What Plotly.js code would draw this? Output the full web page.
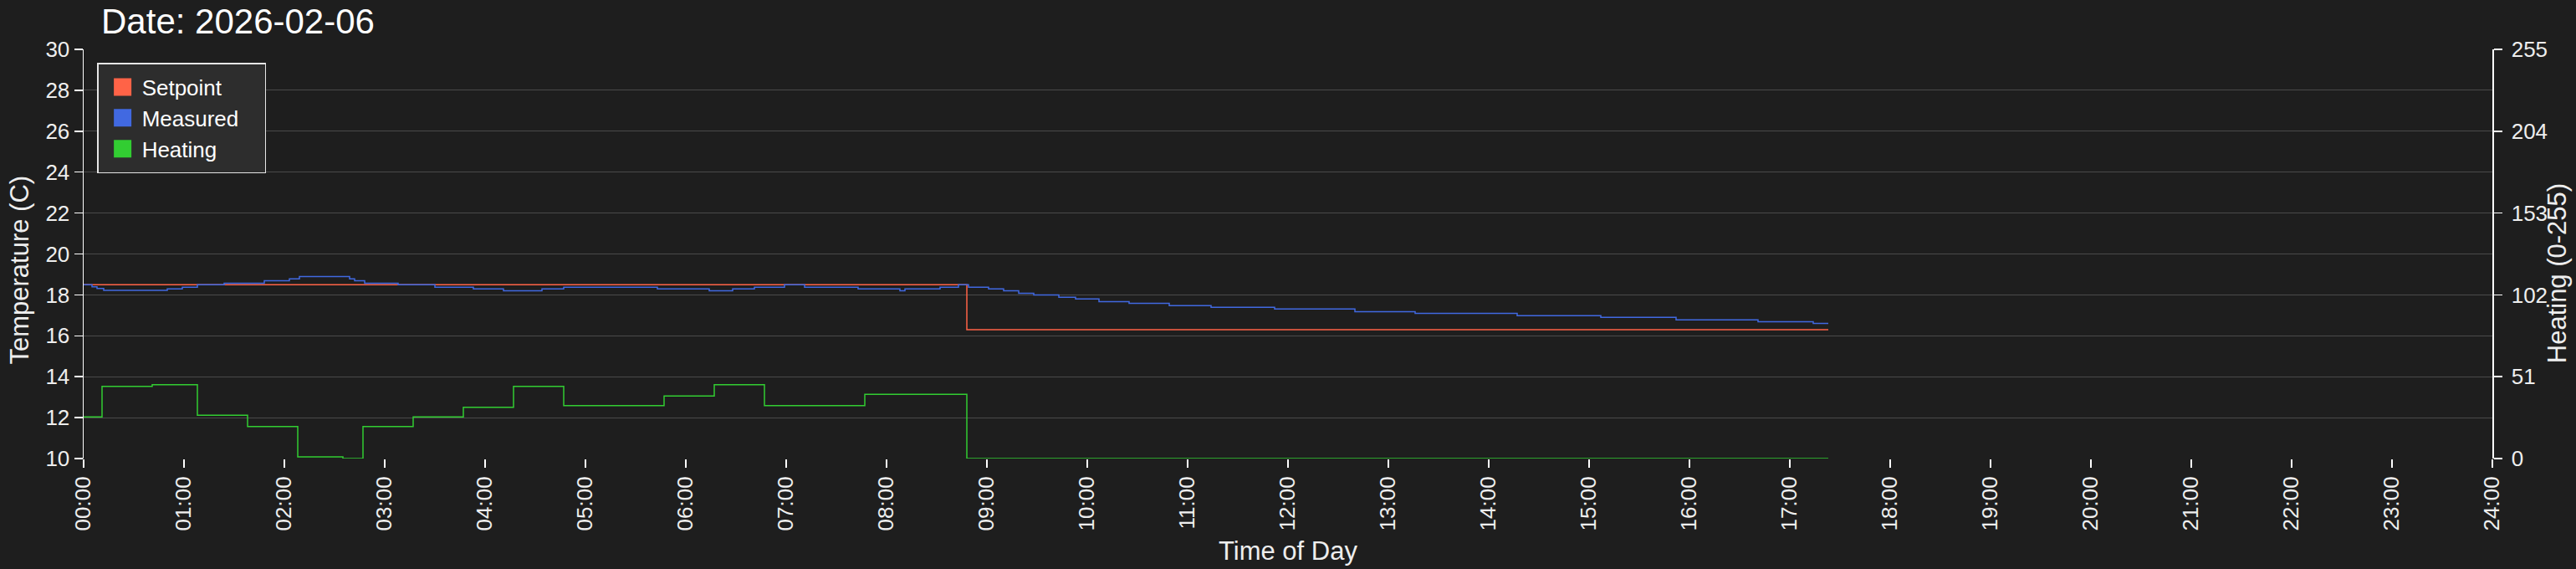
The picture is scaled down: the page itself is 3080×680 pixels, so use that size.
<!DOCTYPE html>
<html>
<head>
<meta charset="utf-8">
<script src="https://cdn.plot.ly/plotly-3.0.1.min.js"></script>
<style>
  body { margin: 0; background: #1e1e1e; }
  #chart { width: 3080px; height: 680px; }
</style>
</head>
<body>
<div id="chart"></div>
<script>
// readings for 2026-02-06 (times as HH:MM)
const setpointTimes = ['00:00', '08:48', '17:23'];
const setpointValues = [18.5, 16.3, 16.3];

const measuredTimes = ['00:00','00:05','00:08','00:12','00:50','00:59','01:08','01:24','01:48','02:03',
  '02:09','02:39','02:42','02:48','03:08','03:30','03:53','04:11','04:34','04:47',
  '05:43','06:14','06:28','06:41','06:59','07:11','07:43','08:08','08:11','08:32',
  '08:43','08:49','09:01','09:10','09:19','09:28','09:43','09:53','10:07','10:25',
  '10:49','11:14','11:52','12:40','13:16','14:17','15:07','15:52','16:41','17:14','17:23'];
const measuredValues = [18.5,18.39,18.31,18.22,18.29,18.37,18.5,18.57,18.69,18.78,
  18.9,18.78,18.69,18.57,18.5,18.37,18.29,18.2,18.29,18.37,
  18.29,18.2,18.29,18.37,18.5,18.37,18.29,18.2,18.29,18.37,
  18.5,18.37,18.29,18.2,18.08,18.0,17.88,17.8,17.67,17.59,
  17.47,17.39,17.31,17.18,17.1,16.98,16.9,16.78,16.69,16.61,16.61];

const heatingTimes = ['00:00','00:11','00:41','01:08','01:38','02:08','02:35','02:47','03:17','03:47',
  '04:17','04:47','05:47','06:17','06:47','07:47','08:48','17:23'];
const heatingValues = [26,45,46,27,20,1,0,20,26,32,45,33,39,46,33,40,0,0];

const seriesNames = ['Setpoint', 'Measured', 'Heating'];
const seriesColors = ['tomato', 'royalblue', 'limegreen'];

const hourTicks = [];
const hourLabels = [];
for (let h = 0; h <= 24; h++) {
  hourTicks.push(h);
  hourLabels.push((h < 10 ? '0' : '') + h + ':00');
}
const heatTicks = [0, 51, 102, 153, 204, 255];

function toHours(s) {
  const [h, m] = s.split(':').map(Number);
  return h + m / 60;
}

function lineTrace(i, times, values, yaxis) {
  return {
    name: seriesNames[i],
    x: times.map(toHours),
    y: values,
    yaxis: yaxis,
    type: 'scatter',
    mode: 'lines',
    line: {color: seriesColors[i], width: 1.5, shape: 'hv'},
    showlegend: false,
    hoverinfo: 'x+y+name',
  };
}

// square swatches for the legend (one empty bar each, nothing drawn in the plot)
function legendTrace(i) {
  return {
    name: seriesNames[i],
    type: 'bar',
    x: [null],
    y: [null],
    marker: {color: seriesColors[i]},
    hoverinfo: 'skip',
  };
}

const data = [
  lineTrace(0, setpointTimes, setpointValues, 'y'),
  lineTrace(1, measuredTimes, measuredValues, 'y'),
  lineTrace(2, heatingTimes, heatingValues, 'y2'),
  legendTrace(0), legendTrace(1), legendTrace(2),
];

const font = '"Liberation Sans", Arial, Helvetica, sans-serif';
const tickFont = {family: font, size: 26, color: '#eeeeee'};
const axisTitleFont = {family: font, size: 31, color: '#eeeeee'};

const layout = {
  width: 3080,
  height: 680,
  paper_bgcolor: '#1e1e1e',
  plot_bgcolor: '#1e1e1e',
  font: {family: font, size: 26, color: '#ffffff'},
  margin: {l: 100, r: 100, t: 59, b: 132},
  title: {
    text: 'Date: 2026-02-06',
    font: {family: font, size: 42, color: '#ffffff'},
    xref: 'container', x: 0.0393, xanchor: 'left',
    yref: 'container', y: 0.963, yanchor: 'middle',
  },
  xaxis: {
    range: [0, 24],
    tickvals: hourTicks,
    ticktext: hourLabels,
    tickangle: -90,
    tickfont: tickFont,
    ticks: 'outside', ticklen: 10, tickwidth: 1.5, tickcolor: '#ffffff',
    showgrid: false, zeroline: false, showline: false,
    fixedrange: true,
  },
  yaxis: {
    range: [10, 30],
    tick0: 10, dtick: 2,
    tickfont: tickFont,
    ticks: 'outside', ticklen: 10, tickwidth: 1.5, tickcolor: '#ffffff',
    showline: true, linecolor: '#ffffff', linewidth: 1.5,
    gridcolor: '#4a4a4a', gridwidth: 1,
    zeroline: false,
    fixedrange: true,
  },
  yaxis2: {
    overlaying: 'y',
    side: 'right',
    range: [0, 255],
    tickvals: heatTicks,
    tickfont: tickFont,
    ticks: 'outside', ticklen: 10, tickwidth: 1.5, tickcolor: '#ffffff',
    ticklabelstandoff: 6,
    showline: true, linecolor: '#ffffff', linewidth: 1.5,
    showgrid: false, zeroline: false,
    fixedrange: true,
  },
  showlegend: true,
  legend: {
    x: 0.0056, y: 0.967, xanchor: 'left', yanchor: 'top',
    bgcolor: '#2d2d2d', bordercolor: '#e6e6e6', borderwidth: 1.5,
    font: {family: font, size: 26, color: '#ffffff'},
    itemwidth: 42,
    tracegroupgap: 0,
  },
  annotations: [
    {text: 'Time of Day', xref: 'paper', yref: 'paper', x: 0.5, y: -0.225,
     xanchor: 'center', yanchor: 'middle', showarrow: false, font: axisTitleFont},
    {text: 'Temperature (C)', xref: 'paper', yref: 'paper', x: -0.0264, y: 0.461,
     xanchor: 'center', yanchor: 'middle', textangle: -90, showarrow: false, font: axisTitleFont},
    {text: 'Heating (0-255)', xref: 'paper', yref: 'paper', x: 1.027, y: 0.453,
     xanchor: 'center', yanchor: 'middle', textangle: -90, showarrow: false, font: axisTitleFont},
  ],
};

Plotly.newPlot('chart', data, layout, {displayModeBar: false, staticPlot: true}).then(function (gd) {
  // legend tweaks: bigger square swatches, a bit more room around the entries
  gd.querySelectorAll('.legend .legendpoints path').forEach(function (p) {
    const t = p.getAttribute('transform') || '';
    p.setAttribute('transform', t + ' translate(3,0) scale(1.75)');
  });
  const bg = gd.querySelector('.legend rect.bg');
  if (bg) {
    bg.setAttribute('width', parseFloat(bg.getAttribute('width')) + 26);
    bg.setAttribute('height', parseFloat(bg.getAttribute('height')) + 8);
  }
  const groups = gd.querySelector('.legend .groups');
  if (groups) {
    const t = groups.getAttribute('transform') || '';
    groups.setAttribute('transform', t + ' translate(0,4)');
  }
});
</script>
</body>
</html>
